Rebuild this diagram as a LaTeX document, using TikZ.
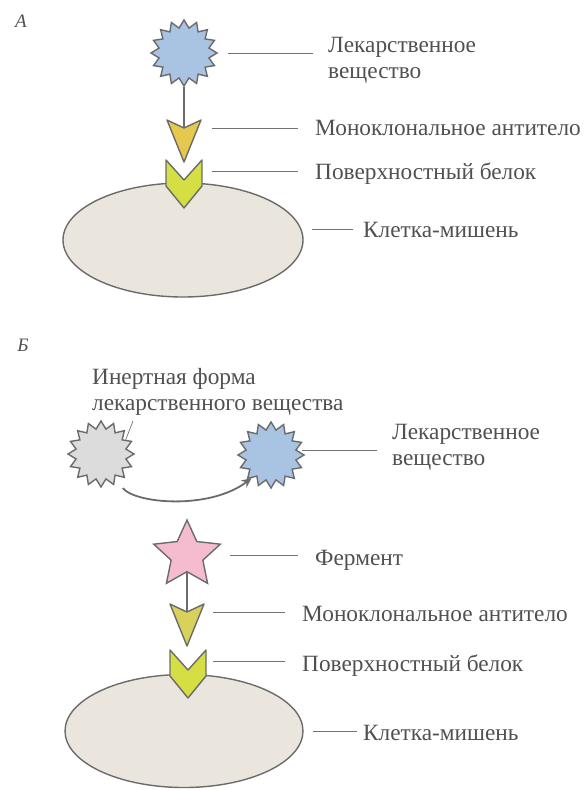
\documentclass[tikz,border=0pt]{standalone}
\usepackage{fontspec}
\setmainfont{Liberation Serif}
\usetikzlibrary{shapes.geometric,arrows.meta}
\definecolor{outl}{HTML}{6B6B6B}
\definecolor{drugblue}{HTML}{A9C3E3}
\definecolor{inertgray}{HTML}{DCDCDC}
\definecolor{enzpink}{HTML}{F5BCD0}
\definecolor{cellfill}{HTML}{EBE6DD}
\definecolor{abgold}{HTML}{E5C84E}
\definecolor{abyel}{HTML}{D8D25C}
\definecolor{protgreen}{HTML}{D5DF44}
\definecolor{txtgray}{HTML}{505050}
\tikzset{
  drug/.style={star, star points=16, star point ratio=1.3, minimum size=66pt,
    inner sep=0pt, draw=outl, line width=1.4pt, fill=drugblue},
  inert/.style={drug, fill=inertgray},
  enzyme/.style={star, star points=5, star point ratio=2.1, minimum size=70pt,
    inner sep=0pt, draw=outl, line width=1.4pt, fill=enzpink},
  cell/.style={ellipse, draw=outl, line width=1.4pt, fill=cellfill,
    minimum width=240pt, minimum height=114pt, inner sep=0pt},
  lbl/.style={anchor=west, inner sep=0pt, align=left, text=txtgray},
  panel/.style={inner sep=0pt, text=txtgray, font=\fontsize{19}{22}\selectfont\itshape},
  conn/.style={draw=outl, line width=1.8pt},
  arr/.style={conn, -{Stealth[length=10pt, width=9pt]}},
  lead/.style={draw=black!55, line width=0.7pt},
  antibody/.pic={
    \coordinate (-top) at (0,0);
    \filldraw[draw=outl, line width=1.4pt, line join=round, fill=#1]
      (-17,-8) -- (0,0) -- (17,-8) -- (0,34) -- cycle;
  },
  protein/.pic={
    \coordinate (-mid) at (0,-9);
    \filldraw[draw=outl, line width=1.4pt, line join=round, fill=protgreen]
      (-18,-20) -- (0,0) -- (18,-20) -- (18,6) -- (0,28) -- (-18,6) -- cycle;
  }}
\begin{document}
\begin{tikzpicture}[x=1pt, y=-1pt, font=\rmfamily\fontsize{23.3}{26}\selectfont]
  \useasboundingbox (0,0) rectangle (586,790);
  % panel A
  \node[panel] (tagA) at (21,21) {А};
  \node[cell] (cellA) at (183,240) {};
  \pic (prA) at (184,180) {protein};
  \pic (abA) at (184,128) {antibody=abgold};
  \node[drug] (drugA) at (184,53) {};
  \draw[conn] (drugA.south) -- (abA-top);
  \node[lbl] (lblDrugA) at (328,60) {Лекарственное\\вещество};
  \node[lbl] (lblAbA) at (315,128) {Моноклональное антитело};
  \node[lbl] (lblPrA) at (315,174) {Поверхностный белок};
  \node[lbl] (lblCellA) at (363,230) {Клетка-мишень};
  \draw[lead, shorten <=10pt, shorten >=15pt] (drugA.east) -- (drugA.east -| lblDrugA.west);
  \draw[lead, shorten <=28pt, shorten >=17pt] (abA-top) -- (abA-top -| lblAbA.west);
  \draw[lead, shorten <=28pt, shorten >=17pt] (prA-mid) -- (prA-mid -| lblPrA.west);
  \draw[lead, shorten <=10pt, shorten >=10pt] (cellA.5) -- (cellA.5 -| lblCellA.west);
  % panel B
  \node[panel] (tagB) at (23,345) {Б};
  \node[lbl] (lblInert) at (92,392) {Инертная форма\\лекарственного вещества};
  \node[inert] (inertB) at (101,454) {};
  \node[drug] (drugB) at (271,455) {};
  \coordinate (inertLead) at (133,421);
  \draw[lead] (inertLead) -- (inertB.30);
  \draw[arr, shorten <=12pt] (inertB.300) .. controls +(20,25) and +(-42,32) .. (drugB.230);
  \node[lbl] (lblDrugB) at (392,447) {Лекарственное\\вещество};
  \draw[lead, shorten <=4pt, shorten >=15pt] (drugB.10) -- (drugB.10 -| lblDrugB.west);
  \node[cell, minimum width=238pt, minimum height=113pt] (cellB) at (184,731) {};
  \pic (prB) at (188,670) {protein};
  \pic (abB) at (187,612) {antibody=abyel};
  \node[enzyme] (enz) at (187,555) {};
  \draw[conn] (enz.south) -- (abB-top);
  \node[lbl] (lblEnz) at (315,560) {Фермент};
  \node[lbl] (lblAbB) at (302,614) {Моноклональное антитело};
  \node[lbl] (lblPrB) at (302,666) {Поверхностный белок};
  \node[lbl] (lblCellB) at (363,733) {Клетка-мишень};
  \draw[lead, shorten <=20pt, shorten >=17pt] (enz.east) -- (enz.east -| lblEnz.west);
  \draw[lead, shorten <=26pt, shorten >=17pt] (abB-top) -- (abB-top -| lblAbB.west);
  \draw[lead, shorten <=25pt, shorten >=17pt] (prB-mid) -- (prB-mid -| lblPrB.west);
  \draw[lead, shorten <=9pt, shorten >=6pt] (cellB.east) -- (cellB.east -| lblCellB.west);
\end{tikzpicture}
\end{document}
